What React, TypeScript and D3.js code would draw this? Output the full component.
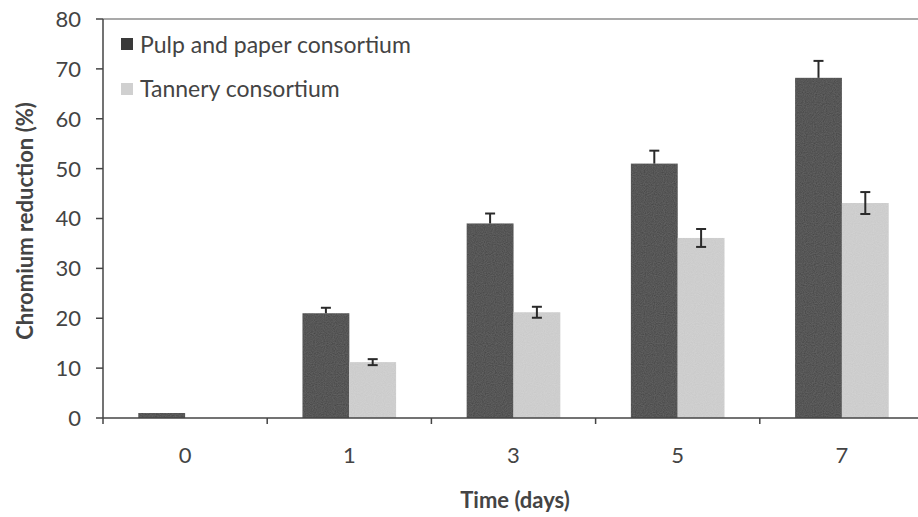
import React from "react";
import * as d3 from "d3";

const categories = ["0", "1", "3", "5", "7"];
const pulpValues = [1.0, 21.0, 39.0, 51.0, 68.2];
const pulpErrors = [0.0, 1.1, 2.0, 2.6, 3.4];
const tanneryValues = [0.0, 11.2, 21.2, 36.1, 43.1];
const tanneryErrors = [0.0, 0.6, 1.1, 1.8, 2.2];
const yTicks = [0, 10, 20, 30, 40, 50, 60, 70, 80];
const seriesNames = ["Pulp and paper consortium", "Tannery consortium"];

const W = 918;
const H = 517;
const FONT = "Lato, 'Open Sans', sans-serif";

export default function App() {
  const x = d3.scaleBand<string>().domain(categories).range([103, 924]).padding(0);
  const y = d3.scaleLinear().domain([0, 80]).range([418, 19]);
  const bw = x.bandwidth() * 0.285;
  const pulpColor = "#3a3a3a";
  const tanColor = "#d0d0d0";
  const errColor = "#2a2a2a";
  const textColor = "#444";

  const errBar = (cx: number, v: number, e: number, key: string, lower: boolean) => {
    if (e <= 0) return null;
    const cap = 5;
    return (
      <g key={key} stroke={errColor} strokeWidth={2}>
        <line x1={cx} x2={cx} y1={y(v + e)} y2={lower ? y(v - e) : y(v)} />
        <line x1={cx - cap} x2={cx + cap} y1={y(v + e)} y2={y(v + e)} />
        {lower && <line x1={cx - cap} x2={cx + cap} y1={y(v - e)} y2={y(v - e)} />}
      </g>
    );
  };

  return (
    <svg width={W} height={H} style={{ position: "absolute", left: 0, top: 0, background: "#fff" }} fontFamily={FONT}>
      <defs>
        <filter id="noise" x="0" y="0" width="100%" height="100%">
          <feTurbulence type="fractalNoise" baseFrequency="0.9" numOctaves="1" result="n" />
          <feColorMatrix in="n" type="saturate" values="0" result="g" />
          <feComponentTransfer in="g" result="g2">
            <feFuncA type="linear" slope="0" intercept="0.12" />
          </feComponentTransfer>
          <feComposite in="g2" in2="SourceGraphic" operator="in" result="m" />
          <feMerge>
            <feMergeNode in="SourceGraphic" />
            <feMergeNode in="m" />
          </feMerge>
        </filter>
      </defs>
      <rect x={0} y={0} width={W} height={H} fill="#fff" />
      <line x1={103} x2={W} y1={19} y2={19} stroke="#555" strokeWidth={1.2} />
      {categories.map((c, i) => {
        const cx = (x(c) as number) + x.bandwidth() / 2;
        return (
          <g key={c}>
            {pulpValues[i] > 0 && (
              <rect x={cx - bw} y={y(pulpValues[i])} width={bw} height={y(0) - y(pulpValues[i])} fill={pulpColor} filter="url(#noise)" />
            )}
            {tanneryValues[i] > 0 && (
              <rect x={cx} y={y(tanneryValues[i])} width={bw} height={y(0) - y(tanneryValues[i])} fill={tanColor} filter="url(#noise)" />
            )}
            {errBar(cx - bw / 2, pulpValues[i], pulpErrors[i], "pe" + c, false)}
            {errBar(cx + bw / 2, tanneryValues[i], tanneryErrors[i], "te" + c, true)}
          </g>
        );
      })}
      <line x1={103} x2={103} y1={19} y2={418} stroke="#444" strokeWidth={1.5} />
      {yTicks.map((t) => (
        <g key={t}>
          <line x1={96} x2={103} y1={y(t)} y2={y(t)} stroke="#444" strokeWidth={1.5} />
          <text x={81} y={y(t)} dy="0.36em" textAnchor="end" fontSize={22} fill={textColor}>
            {t}
          </text>
        </g>
      ))}
      <line x1={103} x2={W} y1={418} y2={418} stroke="#444" strokeWidth={1.5} />
      {categories.map((c) => (
        <line key={"t" + c} x1={x(c) as number} x2={x(c) as number} y1={418} y2={424} stroke="#444" strokeWidth={1.5} />
      ))}
      {categories.map((c) => (
        <text key={"l" + c} x={(x(c) as number) + x.bandwidth() / 2} y={463} textAnchor="middle" fontSize={22} fill={textColor}>
          {c}
        </text>
      ))}
      <text x={515} y={508} textAnchor="middle" fontSize={22} fontWeight="bold" fill={textColor}>
        Time (days)
      </text>
      <text transform="translate(33,221) rotate(-90)" textAnchor="middle" fontSize={22} fontWeight="bold" fill={textColor}>
        Chromium reduction (%)
      </text>
      <rect x={121} y={38} width={12} height={12} fill={pulpColor} />
      <text x={140} y={53} fontSize={23} fill={textColor}>{seriesNames[0]}</text>
      <rect x={121} y={83} width={12} height={12} fill={tanColor} />
      <text x={140} y={97} fontSize={23} fill={textColor}>{seriesNames[1]}</text>
    </svg>
  );
}
